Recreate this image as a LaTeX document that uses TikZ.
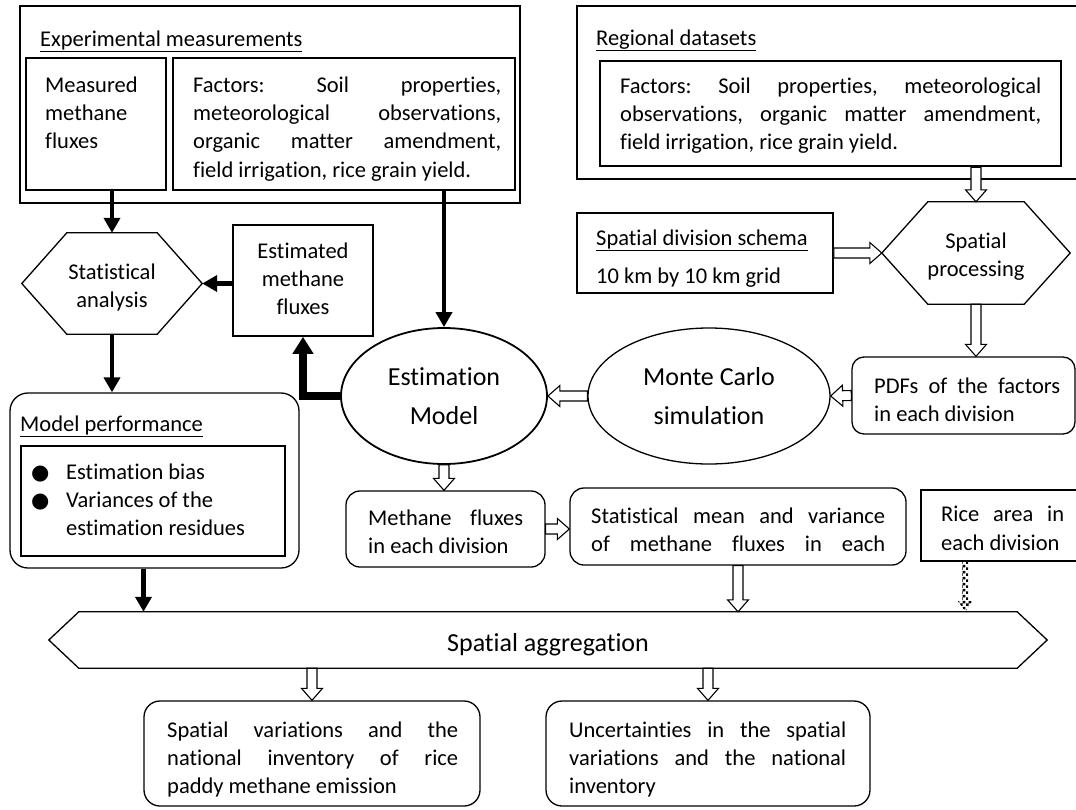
\documentclass[tikz,border=0pt]{standalone}
\usepackage{fontspec}
\setmainfont{Carlito}[Ligatures=NoCommon]
\newfontfamily\bulletfont{DejaVu Sans}
\usetikzlibrary{calc, shapes, patterns, arrows.meta}
\setlength{\parindent}{0pt}
\tolerance=10000 \hbadness=10000

\newcommand{\bul}{{\bulletfont\fontsize{21}{21}\selectfont ●}}

% coarse checkers for the dotted arrow
\pgfdeclarepatternformonly{checkers}{\pgfqpoint{0pt}{0pt}}{\pgfqpoint{6pt}{6pt}}{\pgfqpoint{6pt}{6pt}}{%
  \pgfpathrectangle{\pgfqpoint{0pt}{0pt}}{\pgfqpoint{3pt}{3pt}}%
  \pgfpathrectangle{\pgfqpoint{3pt}{3pt}}{\pgfqpoint{3pt}{3pt}}%
  \pgfusepath{fill}}

% hollow block arrow between two anchors
\newcommand{\openarrow}[2]{%
  \coordinate (oa) at (#1); \coordinate (ob) at (#2);
  \coordinate (oh) at ($(ob)!12pt!(oa)$);
  \draw[hollow] ($(oa)!5pt!90:(ob)$) -- ($(oh)!5pt!-90:(oa)$) -- ($(oh)!10.5pt!-90:(oa)$)
    -- (ob) -- ($(oh)!10.5pt!90:(oa)$) -- ($(oh)!5pt!90:(oa)$) -- ($(oa)!5pt!-90:(ob)$) -- cycle;}

% checkered arrow
\newcommand{\dotarrow}[2]{%
  \coordinate (oa) at (#1); \coordinate (ob) at (#2);
  \coordinate (oh) at ($(ob)!11pt!(oa)$);
  \fill[pattern=checkers] ($(oa)!3pt!90:(ob)$) -- ($(oh)!3pt!-90:(oa)$) -- ($(oh)!7.5pt!-90:(oa)$)
    -- (ob) -- ($(oh)!7.5pt!90:(oa)$) -- ($(oh)!3pt!90:(oa)$) -- ($(oa)!3pt!-90:(ob)$) -- cycle;}

% hexagon round a body node
\newcommand{\hexframe}[2]{%
  \coordinate (#1-w) at ([xshift=-#2]#1.west);
  \coordinate (#1-e) at ([xshift=#2]#1.east);
  \draw[hexline] (#1.north west) -- (#1-w) -- (#1.south west) -- (#1.south east)
    -- (#1-e) -- (#1.north east) -- cycle;}

\tikzset{
  base/.style={font=\fontsize{22.5}{28.3}\selectfont, inner sep=0pt},
  big/.style={font=\fontsize{26}{39.5}\selectfont},
  frame/.style={draw, line width=1.3pt},
  midframe/.style={draw, line width=1.8pt},
  thickframe/.style={draw, line width=2.4pt},
  roundframe/.style={draw, line width=1.3pt, rounded corners=14pt},
  hexline/.style={line width=1.3pt},
  blurb/.style={anchor=north west, align=justify},
  hollow/.style={draw, line width=1.1pt, fill=white},
  flow/.style={line width=4.5pt, -{Triangle[length=15pt, width=16pt]}},
}

\begin{document}
\begin{tikzpicture}[x=1pt, y=-1pt, every node/.style={base}]
\useasboundingbox (0,0) rectangle (1076,809);
\fill[white] (0,0) rectangle (1076,809);
\clip (0,0) rectangle (1076,809);

% experimental measurements
\node[frame, minimum width=500pt, minimum height=197pt] (expbox) at (270,104.5) {};
\node[anchor=base west] (explabel) at (40,46) {\underline{Experimental measurements}};
\node[thickframe, minimum width=140pt, minimum height=132pt] (measbox) at (96,124) {};
\node[anchor=north west, align=left] (meastext) at (45,76.3) {Measured\\methane\\fluxes};
\node[thickframe, minimum width=342pt, minimum height=132pt] (fact1) at (344,124) {};
\node[blurb, text width=308pt] (fact1text) at (193,76.3) {Factors:~Soil~properties,\linebreak
  meteorological~observations,\linebreak organic~matter~amendment,\linebreak
  field~irrigation,~rice~grain~yield.};

% regional datasets
\node[frame, minimum width=503pt, minimum height=173pt] (regbox) at (828.5,92.5) {};
\node[anchor=base west] (reglabel) at (596,45) {\underline{Regional datasets}};
\node[thickframe, minimum width=461pt, minimum height=105pt] (fact2) at (830.5,113.5) {};
\node[blurb, text width=421pt] (fact2text) at (620,77.3) {Factors:~Soil~properties,~meteorological\linebreak
  observations,~organic~matter~amendment,\linebreak field~irrigation,~rice~grain~yield.};

% spatial division and processing
\node[midframe, minimum width=256pt, minimum height=80pt] (spdiv) at (705,253) {};
\node[anchor=base west] (spdivlabel) at (596,245) {\underline{Spatial division schema}};
\node[anchor=base west] (spdivgrid) at (596,283) {10 km by 10 km grid};
\node[minimum width=96pt, minimum height=102pt] (sproc) at (976,253) {};
\hexframe{sproc}{46pt}
\node[anchor=north, align=center] (sproctext) at (976,232.3) {Spatial\\processing};

\node[roundframe, rounded corners=12pt, minimum width=223pt, minimum height=77pt] (pdfbox) at (963.5,395.5) {};
\node[blurb, text width=186pt] (pdftext) at (874,377.3) {PDFs~of~the~factors\linebreak in~each~division};

% simulation and model
\node[draw, ellipse, line width=1.3pt, minimum width=242pt, minimum height=136pt, big, align=center] (mcarlo) at (709,396) {Monte Carlo\\simulation};
\node[draw, ellipse, line width=1.8pt, minimum width=206pt, minimum height=136pt, big, align=center] (emodel) at (444,396) {Estimation\\Model};

% statistical analysis
\node[minimum width=90pt, minimum height=101pt] (stathex) at (112,283.5) {};
\hexframe{stathex}{45pt}
\node[anchor=north, align=center] (stattext) at (112,263.3) {Statistical\\analysis};
\node[frame, line width=1.6pt, minimum width=140pt, minimum height=111pt] (estbox) at (303,280.5) {};
\node[anchor=north, align=center] (esttext) at (303,242.3) {Estimated\\methane\\fluxes};

% model performance
\node[roundframe, rounded corners=18pt, minimum width=289pt, minimum height=175pt] (perfbox) at (154.5,480.5) {};
\node[anchor=base west] (perflabel) at (20,431) {\underline{Model performance}};
\node[frame, minimum width=264pt, minimum height=110pt] (perfinner) at (153,501) {};
\node[anchor=north west, align=left] (perflist) at (31,463.3) {\makebox[35pt][l]{\bul}Estimation bias\\
  \makebox[35pt][l]{\bul}Variances of the\\ \makebox[35pt][l]{}estimation residues};

% fluxes per division
\node[roundframe, minimum width=199pt, minimum height=76pt] (methbox) at (445.5,529) {};
\node[blurb, text width=155pt] (methtext) at (368,509.3) {Methane~fluxes\linebreak in~each~division};
\node[roundframe, minimum width=336pt, minimum height=77pt] (statmean) at (738,526.5) {};
\node[blurb, text width=294pt] (statmeantext) at (591,507.3) {{\parfillskip=0pt
  Statistical~mean~and~variance\linebreak of~methane~fluxes~in~each\par}};
\node[frame, minimum width=159pt, minimum height=71pt] (ricebox) at (1000.5,525.5) {};
\node[blurb, text width=123pt] (ricetext) at (941,506.3) {Rice~area~in\linebreak each~division};

% spatial aggregation
\node[minimum width=938pt, minimum height=56pt] (agg) at (548,640) {};
\hexframe{agg}{30pt}
\node[big, anchor=base] (aggtext) at (548,651) {Spatial aggregation};

% results
\node[roundframe, rounded corners=16pt, minimum width=336pt, minimum height=105pt] (leftres) at (312,753.5) {};
\node[blurb, text width=291pt] (lefttext) at (167,721.3) {Spatial~variations~and~the\linebreak
  national~inventory~of~rice\linebreak paddy~methane~emission};
\node[roundframe, rounded corners=16pt, minimum width=324pt, minimum height=105pt] (rightres) at (708,753.5) {};
\node[blurb, text width=277pt] (righttext) at (569,721.3) {Uncertainties~in~the~spatial\linebreak
  variations~and~the~national\linebreak inventory};

% black arrows
\draw[flow] (stathex.north |- measbox.south) -- (stathex.north);
\draw[flow] (emodel.north |- fact1.south) -- (emodel.north);
\draw[flow] (estbox.west |- stathex-e) -- (stathex-e);
\draw[flow, line width=7.5pt, -{Triangle[length=17pt, width=20pt]}] (emodel.west) -| (estbox.south);
\draw[flow] (stathex.south) -- (stathex.south |- perfbox.north);
\draw[flow] ([xshift=-11pt]perfbox.south) -- ([xshift=-11pt]perfbox.south |- agg.north);

% hollow arrows
\openarrow{sproc.north |- fact2.south}{sproc.north}
\openarrow{spdiv.east}{sproc-w}
\openarrow{sproc.south}{sproc.south |- pdfbox.north}
\openarrow{pdfbox.west}{mcarlo.east}
\openarrow{mcarlo.west}{emodel.east}
\openarrow{emodel.south}{emodel.south |- methbox.north}
\openarrow{methbox.east}{methbox.east -| statmean.west}
\openarrow{statmean.south}{statmean.south |- agg.north}
\openarrow{agg.south -| leftres.north}{leftres.north}
\openarrow{agg.south -| rightres.north}{rightres.north}
\coordinate (ricefoot) at ($(ricebox.south west)!0.28!(ricebox.south east)$);
\dotarrow{ricefoot}{ricefoot |- agg.north}
\end{tikzpicture}
\end{document}
